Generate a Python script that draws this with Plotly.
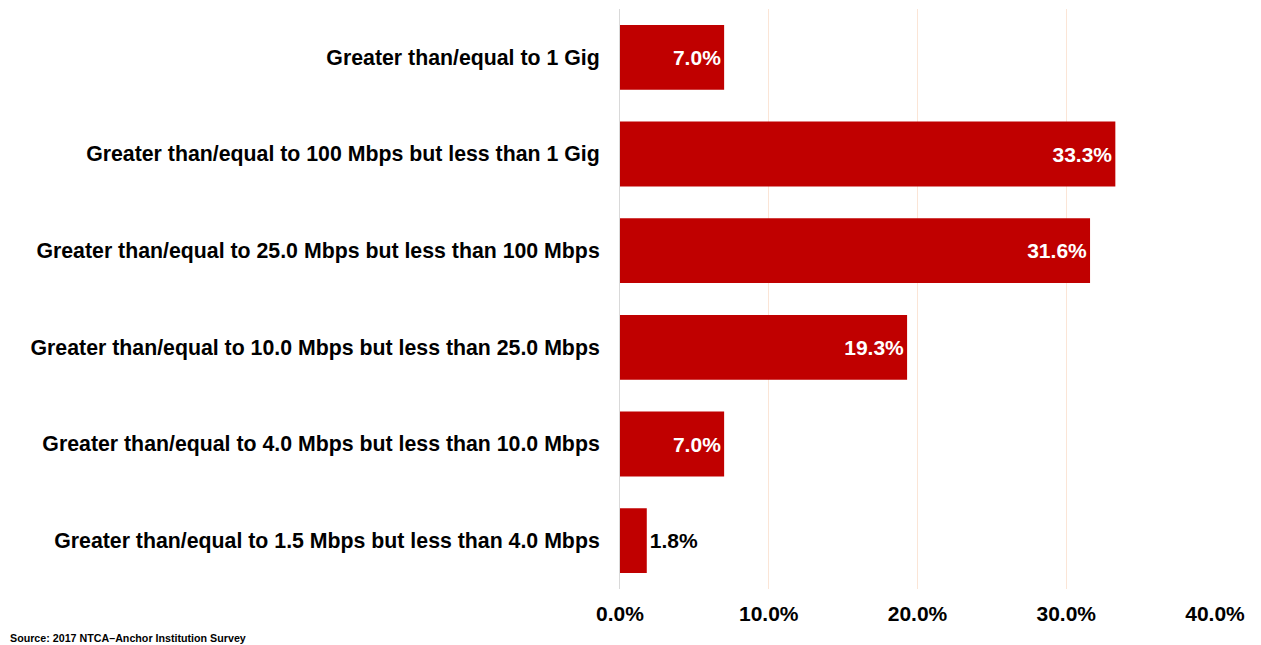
import plotly.graph_objects as go

categories = [
    "Greater than/equal to 1 Gig",
    "Greater than/equal to 100 Mbps but less than 1 Gig",
    "Greater than/equal to 25.0 Mbps but less than 100 Mbps",
    "Greater than/equal to 10.0 Mbps but less than 25.0 Mbps",
    "Greater than/equal to 4.0 Mbps but less than 10.0 Mbps",
    "Greater than/equal to 1.5 Mbps but less than 4.0 Mbps",
]
values = [0.070, 0.333, 0.316, 0.193, 0.070, 0.018]
labels = ["7.0%", "33.3%", "31.6%", "19.3%", "7.0%", "1.8%"]
text_positions = ["inside", "inside", "inside", "inside", "inside", "outside"]
x_ticks = [0, 0.1, 0.2, 0.3, 0.4]
x_tick_labels = ["0.0%", "10.0%", "20.0%", "30.0%", "40.0%"]

FONT = "Liberation Sans, Arial, sans-serif"

fig = go.Figure(go.Bar(
    y=categories,
    x=values,
    orientation="h",
    marker=dict(color="#C00000", line=dict(width=0)),
    text=labels,
    textposition=text_positions,
    insidetextanchor="end",
    outsidetextfont=dict(family=FONT, size=21, color="black"),
    insidetextfont=dict(family=FONT, size=21, color="white"),
    cliponaxis=False,
    texttemplate="<b>%{text}</b>",
))

fig.update_layout(
    width=1261,
    height=645,
    margin=dict(l=620, r=46, t=9, b=56),
    plot_bgcolor="white",
    paper_bgcolor="white",
    bargap=0.33,
    showlegend=False,
    font=dict(family=FONT, color="black"),
    xaxis=dict(
        range=[0, 0.4],
        tickvals=x_ticks,
        ticktext=["<b>%s</b>" % t for t in x_tick_labels],
        tickfont=dict(size=21, color="black"),
        showgrid=True,
        gridcolor="#FBE5D6",
        gridwidth=1,
        zeroline=False,
        showline=False,
        ticks="",
        ticklabelstandoff=10,
    ),
    yaxis=dict(
        autorange="reversed",
        tickvals=categories,
        ticktext=["<b>%s</b>" % c for c in categories],
        tickfont=dict(size=21.3, color="black"),
        showgrid=False,
        zeroline=False,
        showline=True,
        linecolor="#D9D9D9",
        linewidth=1,
        ticks="",
        ticklabelstandoff=15,
    ),
    annotations=[dict(
        text="<b>Source: 2017 NTCA\u2013Anchor Institution Survey</b>",
        xref="paper", yref="paper",
        x=-612 / 595, y=-(638 - 589) / 580,
        xanchor="left", yanchor="middle",
        showarrow=False,
        font=dict(size=10.7, color="black"),
    )],
)

fig.write_html(
    "out.html",
    config={"displayModeBar": False},
    post_script="document.body.style.margin='0';document.body.style.padding='0';",
)
